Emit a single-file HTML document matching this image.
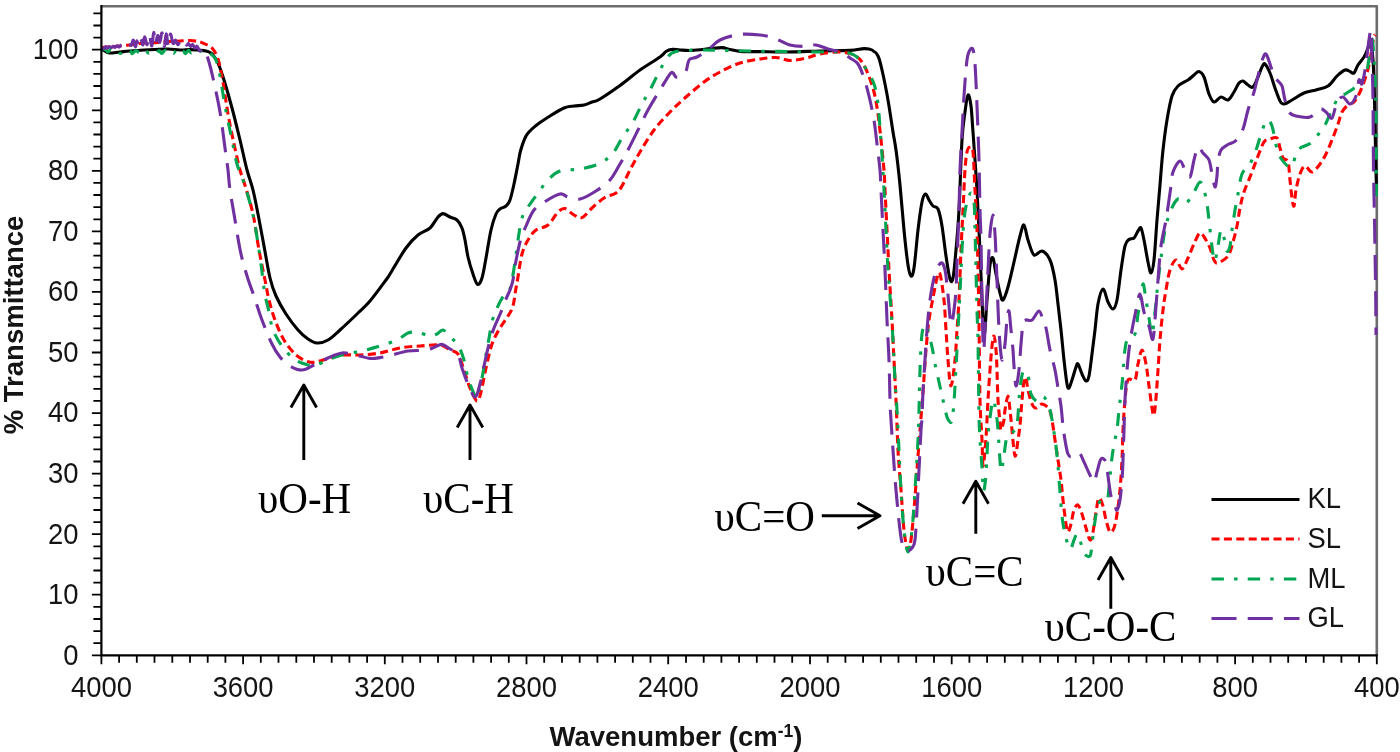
<!DOCTYPE html>
<html lang="en"><head><meta charset="utf-8"><title>FTIR spectra</title>
<style>html,body{margin:0;padding:0;background:#fff}body{width:1400px;height:752px;overflow:hidden}svg{display:block;will-change:transform}.t{font-family:"Liberation Sans",sans-serif;fill:#141414}.s{font-family:"Liberation Serif",serif;fill:#000}.c{fill:none;stroke-linejoin:round}</style></head><body>
<svg width="1400" height="752" viewBox="0 0 1400 752">
<rect width="1400" height="752" fill="#fff"/>
<path d="M101.4 6.25 H1376.8 V655.3" fill="none" stroke="#6c6c6c" stroke-width="2.6" stroke-linejoin="round"/>
<path class="c" d="M101.5 48.0C101.9 48.4 102.8 49.7 104.0 50.5C105.2 51.3 106.3 52.8 109.0 53.0C111.7 53.2 116.5 52.3 120.0 52.0C123.5 51.7 124.3 51.4 130.0 51.0C135.7 50.6 147.7 49.8 154.0 49.5C160.3 49.2 163.7 48.9 168.0 49.0C172.3 49.1 176.3 49.9 180.0 50.0C183.7 50.1 186.7 49.6 190.0 49.6C193.3 49.6 197.3 50.1 200.0 50.3C202.7 50.5 204.3 50.6 206.0 51.0C207.7 51.4 208.8 51.8 210.0 52.5C211.2 53.2 211.7 53.2 213.0 55.0C214.3 56.8 216.2 58.8 218.0 63.0C219.8 67.2 221.7 72.5 224.0 80.0C226.3 87.5 229.3 98.0 232.0 108.0C234.7 118.0 237.5 129.7 240.0 140.0C242.5 150.3 244.8 161.7 247.0 170.0C249.2 178.3 251.2 182.7 253.0 190.0C254.8 197.3 256.2 204.7 258.0 214.0C259.8 223.3 262.0 235.3 264.0 246.0C266.0 256.7 268.0 269.7 270.0 278.0C272.0 286.3 273.3 290.0 276.0 296.0C278.7 302.0 282.3 308.3 286.0 314.0C289.7 319.7 294.3 325.8 298.0 330.0C301.7 334.2 304.8 336.8 308.0 339.0C311.2 341.2 313.7 342.8 317.0 343.0C320.3 343.2 324.2 342.2 328.0 340.0C331.8 337.8 335.3 334.2 340.0 330.0C344.7 325.8 351.0 319.8 356.0 315.0C361.0 310.2 365.0 306.8 370.0 301.0C375.0 295.2 382.7 284.5 386.0 280.0C389.3 275.5 386.7 279.3 390.0 274.0C393.3 268.7 401.3 254.5 406.0 248.0C410.7 241.5 414.0 238.3 418.0 235.0C422.0 231.7 426.7 231.0 430.0 228.0C433.3 225.0 435.8 219.4 438.0 217.0C440.2 214.6 441.0 213.6 443.0 213.6C445.0 213.6 447.7 215.9 450.0 217.0C452.3 218.1 455.0 218.2 457.0 220.0C459.0 221.8 460.7 224.7 462.0 228.0C463.3 231.3 464.0 235.2 465.0 240.0C466.0 244.8 466.7 251.3 468.0 257.0C469.3 262.7 471.4 269.4 473.0 274.0C474.6 278.6 476.1 283.7 477.6 284.4C479.1 285.1 480.6 282.4 482.0 278.0C483.4 273.6 484.5 266.0 486.0 258.0C487.5 250.0 489.3 237.3 491.0 230.0C492.7 222.7 494.5 217.5 496.0 214.0C497.5 210.5 498.3 210.3 500.0 209.0C501.7 207.7 504.3 207.5 506.0 206.0C507.7 204.5 508.7 203.7 510.0 200.0C511.3 196.3 512.7 190.0 514.0 184.0C515.3 178.0 516.9 169.5 518.0 164.0C519.1 158.5 519.2 155.7 520.5 151.0C521.8 146.3 524.1 139.7 526.0 136.0C527.9 132.3 530.0 131.0 532.0 129.0C534.0 127.0 535.0 126.2 538.0 124.0C541.0 121.8 545.7 118.7 550.0 116.0C554.3 113.3 560.0 109.7 564.0 108.0C568.0 106.3 570.7 106.5 574.0 106.0C577.3 105.5 581.0 105.7 584.0 105.0C587.0 104.3 589.3 103.0 592.0 102.0C594.7 101.0 595.3 101.8 600.0 99.0C604.7 96.2 613.3 90.3 620.0 85.5C626.7 80.7 633.3 74.8 640.0 70.0C646.7 65.2 655.7 60.1 660.0 57.0C664.3 53.9 664.0 52.8 666.0 51.5C668.0 50.2 669.7 49.6 672.0 49.4C674.3 49.1 676.7 49.8 680.0 50.0C683.3 50.2 687.0 50.6 692.0 50.4C697.0 50.2 705.0 49.1 710.0 48.6C715.0 48.1 718.7 47.5 722.0 47.6C725.3 47.8 727.0 48.9 730.0 49.5C733.0 50.1 735.0 51.0 740.0 51.4C745.0 51.8 752.3 51.5 760.0 51.6C767.7 51.7 776.0 52.1 786.0 52.0C796.0 51.9 809.3 51.3 820.0 51.0C830.7 50.7 842.7 50.8 850.0 50.4C857.3 50.0 860.3 48.7 864.0 48.6C867.7 48.5 869.7 48.8 872.0 50.0C874.3 51.2 876.3 52.7 878.0 56.0C879.7 59.3 880.3 62.7 882.0 70.0C883.7 77.3 886.2 89.7 888.0 100.0C889.8 110.3 891.7 123.7 893.0 132.0C894.3 140.3 894.8 141.2 896.0 150.0C897.2 158.8 898.7 171.7 900.0 185.0C901.3 198.3 902.7 216.7 904.0 230.0C905.3 243.3 906.8 257.3 908.0 265.0C909.2 272.7 910.0 275.5 911.0 276.0C912.0 276.5 912.8 275.7 914.0 268.0C915.2 260.3 916.7 241.0 918.0 230.0C919.3 219.0 920.8 208.0 922.0 202.0C923.2 196.0 924.3 194.3 925.5 194.0C926.7 193.7 927.8 198.0 929.0 200.0C930.2 202.0 931.5 204.5 933.0 206.0C934.5 207.5 936.5 205.7 938.0 209.0C939.5 212.3 940.7 218.2 942.0 226.0C943.3 233.8 944.7 247.2 946.0 256.0C947.3 264.8 948.8 275.3 950.0 279.0C951.2 282.7 952.0 282.8 953.0 278.0C954.0 273.2 955.0 261.3 956.0 250.0C957.0 238.7 958.0 228.3 959.0 210.0C960.0 191.7 961.0 156.3 962.0 140.0C963.0 123.7 964.0 119.5 965.0 112.0C966.0 104.5 967.0 96.0 968.0 95.0C969.0 94.0 970.2 99.8 971.0 106.0C971.8 112.2 972.3 123.0 973.0 132.0C973.7 141.0 974.3 150.3 975.0 160.0C975.7 169.7 976.3 178.3 977.0 190.0C977.7 201.7 978.3 215.8 979.0 230.0C979.7 244.2 980.2 257.7 981.0 275.0C981.8 292.3 983.0 329.8 984.0 334.0C985.0 338.2 986.0 311.5 987.0 300.0C988.0 288.5 989.0 272.0 990.0 265.0C991.0 258.0 992.0 256.5 993.0 258.0C994.0 259.5 994.8 268.2 996.0 274.0C997.2 279.8 998.8 288.7 1000.0 293.0C1001.2 297.3 1001.7 301.0 1003.0 300.0C1004.3 299.0 1006.2 293.3 1008.0 287.0C1009.8 280.7 1012.0 270.5 1014.0 262.0C1016.0 253.5 1018.3 242.2 1020.0 236.0C1021.7 229.8 1022.7 224.3 1024.0 225.0C1025.3 225.7 1026.3 235.0 1028.0 240.0C1029.7 245.0 1031.7 253.2 1034.0 255.0C1036.3 256.8 1039.3 250.2 1042.0 251.0C1044.7 251.8 1047.8 255.2 1050.0 260.0C1052.2 264.8 1053.7 272.7 1055.0 280.0C1056.3 287.3 1057.0 295.7 1058.0 304.0C1059.0 312.3 1060.0 320.7 1061.0 330.0C1062.0 339.3 1063.0 351.0 1064.0 360.0C1065.0 369.0 1066.2 379.3 1067.0 384.0C1067.8 388.7 1068.2 388.7 1069.0 388.0C1069.8 387.3 1070.8 383.5 1072.0 380.0C1073.2 376.5 1075.0 369.7 1076.0 367.0C1077.0 364.3 1077.0 362.8 1078.0 364.0C1079.0 365.2 1080.7 371.2 1082.0 374.0C1083.3 376.8 1084.8 380.7 1086.0 381.0C1087.2 381.3 1088.0 380.5 1089.0 376.0C1090.0 371.5 1091.0 361.7 1092.0 354.0C1093.0 346.3 1094.0 338.3 1095.0 330.0C1096.0 321.7 1096.7 310.8 1098.0 304.0C1099.3 297.2 1101.3 289.3 1103.0 289.0C1104.7 288.7 1106.3 298.7 1108.0 302.0C1109.7 305.3 1111.5 309.3 1113.0 309.0C1114.5 308.7 1115.7 306.5 1117.0 300.0C1118.3 293.5 1119.7 279.0 1121.0 270.0C1122.3 261.0 1123.7 251.1 1125.0 246.0C1126.3 240.9 1127.5 240.8 1129.0 239.5C1130.5 238.2 1132.5 239.4 1134.0 238.0C1135.5 236.6 1136.8 232.7 1138.0 231.0C1139.2 229.3 1140.0 226.5 1141.0 228.0C1142.0 229.5 1142.8 234.3 1144.0 240.0C1145.2 245.7 1146.8 256.5 1148.0 262.0C1149.2 267.5 1150.0 273.3 1151.0 273.0C1152.0 272.7 1153.0 268.8 1154.0 260.0C1155.0 251.2 1156.0 232.5 1157.0 220.0C1158.0 207.5 1159.0 196.7 1160.0 185.0C1161.0 173.3 1161.8 160.8 1163.0 150.0C1164.2 139.2 1165.5 129.0 1167.0 120.0C1168.5 111.0 1170.2 101.7 1172.0 96.0C1173.8 90.3 1175.3 88.7 1178.0 86.0C1180.7 83.3 1185.3 81.8 1188.0 80.0C1190.7 78.2 1192.2 76.4 1194.0 75.0C1195.8 73.6 1197.3 71.2 1199.0 71.5C1200.7 71.8 1202.3 73.2 1204.0 77.0C1205.7 80.8 1207.3 89.8 1209.0 94.0C1210.7 98.2 1212.0 101.5 1214.0 102.0C1216.0 102.5 1218.7 97.3 1221.0 97.0C1223.3 96.7 1225.8 100.8 1228.0 100.0C1230.2 99.2 1232.2 94.8 1234.0 92.0C1235.8 89.2 1237.5 84.8 1239.0 83.0C1240.5 81.2 1241.5 80.7 1243.0 81.0C1244.5 81.3 1246.3 84.0 1248.0 85.0C1249.7 86.0 1251.3 88.3 1253.0 87.0C1254.7 85.7 1256.5 80.3 1258.0 77.0C1259.5 73.7 1260.8 69.2 1262.0 67.0C1263.2 64.8 1263.7 63.0 1265.0 64.0C1266.3 65.0 1268.3 69.0 1270.0 73.0C1271.7 77.0 1273.3 83.3 1275.0 88.0C1276.7 92.7 1278.5 98.3 1280.0 101.0C1281.5 103.7 1282.0 104.2 1284.0 104.0C1286.0 103.8 1288.7 101.8 1292.0 100.0C1295.3 98.2 1300.0 94.7 1304.0 93.0C1308.0 91.3 1312.0 91.2 1316.0 90.0C1320.0 88.8 1324.5 88.3 1328.0 86.0C1331.5 83.7 1334.2 78.7 1337.0 76.0C1339.8 73.3 1342.8 70.8 1345.0 70.0C1347.2 69.2 1348.5 71.0 1350.0 71.5C1351.5 72.0 1352.7 74.1 1354.0 73.0C1355.3 71.9 1356.3 67.7 1358.0 65.0C1359.7 62.3 1362.3 59.8 1364.0 57.0C1365.7 54.2 1367.0 50.8 1368.0 48.0C1369.0 45.2 1369.2 38.0 1370.0 40.0C1370.8 42.0 1372.2 50.0 1373.0 60.0C1373.8 70.0 1374.1 85.0 1374.5 100.0C1374.9 115.0 1375.2 134.8 1375.5 150.0C1375.8 165.2 1376.3 184.2 1376.5 191.0" stroke="#000000" stroke-width="3.1" stroke-linecap="butt"/>
<path class="c" d="M101.5 47.5C102.9 47.4 106.9 47.2 110.0 47.0C113.1 46.8 116.0 46.4 120.0 46.0C124.0 45.6 129.8 45.0 134.0 44.5C138.2 44.0 141.0 43.3 145.0 43.0C149.0 42.7 153.8 42.8 158.0 42.5C162.2 42.2 166.3 41.8 170.0 41.5C173.7 41.2 176.7 41.2 180.0 41.0C183.3 40.8 187.0 40.4 190.0 40.5C193.0 40.6 195.7 41.0 198.0 41.5C200.3 42.0 201.7 42.5 204.0 43.6C206.3 44.7 209.7 45.4 212.0 48.0C214.3 50.6 216.2 53.3 218.0 59.0C219.8 64.7 221.3 72.8 223.0 82.0C224.7 91.2 226.2 103.7 228.0 114.0C229.8 124.3 232.0 134.7 234.0 144.0C236.0 153.3 238.3 163.7 240.0 170.0C241.7 176.3 241.8 174.7 244.0 182.0C246.2 189.3 250.5 202.7 253.0 214.0C255.5 225.3 257.0 239.0 259.0 250.0C261.0 261.0 263.3 271.7 265.0 280.0C266.7 288.3 267.3 293.3 269.0 300.0C270.7 306.7 272.5 313.3 275.0 320.0C277.5 326.7 280.5 334.2 284.0 340.0C287.5 345.8 292.0 351.4 296.0 355.0C300.0 358.6 304.7 360.4 308.0 361.6C311.3 362.8 312.3 362.6 316.0 362.0C319.7 361.4 325.3 359.2 330.0 358.0C334.7 356.8 339.0 355.5 344.0 355.0C349.0 354.5 354.0 355.3 360.0 355.0C366.0 354.7 373.3 354.2 380.0 353.0C386.7 351.8 393.3 349.2 400.0 348.0C406.7 346.8 413.3 346.5 420.0 346.0C426.7 345.5 435.0 344.3 440.0 345.0C445.0 345.7 447.0 348.5 450.0 350.0C453.0 351.5 455.7 350.7 458.0 354.0C460.3 357.3 462.0 364.3 464.0 370.0C466.0 375.7 467.8 382.8 470.0 388.0C472.2 393.2 475.2 400.3 477.0 401.0C478.8 401.7 479.5 397.5 481.0 392.0C482.5 386.5 484.2 376.0 486.0 368.0C487.8 360.0 489.7 350.7 492.0 344.0C494.3 337.3 497.3 332.7 500.0 328.0C502.7 323.3 505.8 319.7 508.0 316.0C510.2 312.3 511.7 310.7 513.0 306.0C514.3 301.3 515.2 292.3 516.0 288.0C516.8 283.7 516.5 285.7 517.5 280.0C518.5 274.3 520.2 260.7 522.0 254.0C523.8 247.3 525.7 244.0 528.0 240.0C530.3 236.0 532.7 232.5 536.0 230.0C539.3 227.5 544.3 228.0 548.0 225.0C551.7 222.0 555.2 214.7 558.0 212.0C560.8 209.3 562.3 208.1 565.0 208.6C567.7 209.1 571.2 213.5 574.0 215.0C576.8 216.5 579.0 218.8 582.0 217.6C585.0 216.4 588.3 211.3 592.0 208.0C595.7 204.7 600.0 200.5 604.0 198.0C608.0 195.5 613.0 195.0 616.0 193.0C619.0 191.0 619.7 189.8 622.0 186.0C624.3 182.2 627.0 175.7 630.0 170.0C633.0 164.3 636.0 158.7 640.0 152.0C644.0 145.3 649.0 136.7 654.0 130.0C659.0 123.3 664.7 117.5 670.0 112.0C675.3 106.5 680.3 102.0 686.0 97.0C691.7 92.0 698.3 86.2 704.0 82.0C709.7 77.8 714.0 75.2 720.0 72.0C726.0 68.8 733.3 65.2 740.0 63.0C746.7 60.8 754.0 59.9 760.0 59.0C766.0 58.1 771.0 57.2 776.0 57.5C781.0 57.8 785.0 60.4 790.0 60.5C795.0 60.6 801.0 59.1 806.0 58.0C811.0 56.9 814.3 55.0 820.0 54.0C825.7 53.0 834.3 51.8 840.0 52.0C845.7 52.2 850.3 53.3 854.0 55.0C857.7 56.7 859.7 58.8 862.0 62.0C864.3 65.2 866.0 69.0 868.0 74.0C870.0 79.0 872.3 85.3 874.0 92.0C875.7 98.7 876.8 106.0 878.0 114.0C879.2 122.0 880.0 130.7 881.0 140.0C882.0 149.3 883.3 161.7 884.0 170.0C884.7 178.3 884.5 180.0 885.0 190.0C885.5 200.0 886.3 216.7 887.0 230.0C887.7 243.3 888.2 255.0 889.0 270.0C889.8 285.0 891.2 305.0 892.0 320.0C892.8 335.0 893.3 346.7 894.0 360.0C894.7 373.3 895.3 385.0 896.0 400.0C896.7 415.0 897.2 435.0 898.0 450.0C898.8 465.0 900.0 476.7 901.0 490.0C902.0 503.3 903.0 520.3 904.0 530.0C905.0 539.7 906.2 544.8 907.0 548.0C907.8 551.2 908.3 550.3 909.0 549.0C909.7 547.7 910.2 546.5 911.0 540.0C911.8 533.5 913.0 521.7 914.0 510.0C915.0 498.3 916.0 483.3 917.0 470.0C918.0 456.7 919.0 443.0 920.0 430.0C921.0 417.0 922.0 405.3 923.0 392.0C924.0 378.7 925.0 362.0 926.0 350.0C927.0 338.0 927.8 328.7 929.0 320.0C930.2 311.3 931.7 305.0 933.0 298.0C934.3 291.0 935.8 282.0 937.0 278.0C938.2 274.0 938.8 270.3 940.0 274.0C941.2 277.7 943.0 290.7 944.0 300.0C945.0 309.3 945.3 320.0 946.0 330.0C946.7 340.0 947.2 350.7 948.0 360.0C948.8 369.3 949.8 386.0 951.0 386.0C952.2 386.0 954.0 369.3 955.0 360.0C956.0 350.7 956.3 340.0 957.0 330.0C957.7 320.0 958.3 313.3 959.0 300.0C959.7 286.7 960.3 265.0 961.0 250.0C961.7 235.0 962.3 223.3 963.0 210.0C963.7 196.7 964.3 179.7 965.0 170.0C965.7 160.3 966.2 155.8 967.0 152.0C967.8 148.2 969.0 147.0 970.0 147.0C971.0 147.0 972.2 144.8 973.0 152.0C973.8 159.2 974.3 177.0 975.0 190.0C975.7 203.0 976.5 216.7 977.0 230.0C977.5 243.3 977.7 255.0 978.0 270.0C978.3 285.0 978.7 298.3 979.0 320.0C979.3 341.7 979.5 380.0 980.0 400.0C980.5 420.0 981.5 429.0 982.0 440.0C982.5 451.0 982.5 464.3 983.0 466.0C983.5 467.7 984.4 456.0 985.0 450.0C985.6 444.0 986.0 438.3 986.5 430.0C987.0 421.7 987.4 410.0 988.0 400.0C988.6 390.0 989.3 379.0 990.0 370.0C990.7 361.0 991.3 351.7 992.0 346.0C992.7 340.3 993.3 335.3 994.0 336.0C994.7 336.7 995.5 344.3 996.0 350.0C996.5 355.7 996.7 361.7 997.0 370.0C997.3 378.3 997.5 391.3 998.0 400.0C998.5 408.7 999.5 417.0 1000.0 422.0C1000.5 427.0 1000.3 430.3 1001.0 430.0C1001.7 429.7 1003.3 423.3 1004.0 420.0C1004.7 416.7 1004.3 414.0 1005.0 410.0C1005.7 406.0 1007.2 396.0 1008.0 396.0C1008.8 396.0 1009.3 404.3 1010.0 410.0C1010.7 415.7 1011.2 422.3 1012.0 430.0C1012.8 437.7 1014.0 454.3 1015.0 456.0C1016.0 457.7 1017.2 445.2 1018.0 440.0C1018.8 434.8 1019.3 431.7 1020.0 425.0C1020.7 418.3 1021.3 407.3 1022.0 400.0C1022.7 392.7 1023.3 384.7 1024.0 381.0C1024.7 377.3 1025.3 376.5 1026.0 378.0C1026.7 379.5 1027.0 385.7 1028.0 390.0C1029.0 394.3 1030.7 401.0 1032.0 404.0C1033.3 407.0 1034.3 408.0 1036.0 408.0C1037.7 408.0 1039.8 403.8 1042.0 404.0C1044.2 404.2 1047.3 406.3 1049.0 409.0C1050.7 411.7 1051.0 414.8 1052.0 420.0C1053.0 425.2 1054.0 433.3 1055.0 440.0C1056.0 446.7 1057.0 453.3 1058.0 460.0C1059.0 466.7 1060.2 473.3 1061.0 480.0C1061.8 486.7 1062.2 492.7 1063.0 500.0C1063.8 507.3 1065.2 518.7 1066.0 524.0C1066.8 529.3 1067.2 532.0 1068.0 532.0C1068.8 532.0 1070.0 527.7 1071.0 524.0C1072.0 520.3 1072.8 513.2 1074.0 510.0C1075.2 506.8 1076.7 504.3 1078.0 505.0C1079.3 505.7 1080.7 510.2 1082.0 514.0C1083.3 517.8 1084.7 523.7 1086.0 528.0C1087.3 532.3 1088.8 539.3 1090.0 540.0C1091.2 540.7 1092.0 536.7 1093.0 532.0C1094.0 527.3 1095.0 517.7 1096.0 512.0C1097.0 506.3 1097.8 499.0 1099.0 498.0C1100.2 497.0 1101.8 502.3 1103.0 506.0C1104.2 509.7 1104.8 515.7 1106.0 520.0C1107.2 524.3 1108.7 530.7 1110.0 532.0C1111.3 533.3 1112.8 531.0 1114.0 528.0C1115.2 525.0 1116.0 520.3 1117.0 514.0C1118.0 507.7 1119.2 499.0 1120.0 490.0C1120.8 481.0 1121.5 470.0 1122.0 460.0C1122.5 450.0 1122.5 440.0 1123.0 430.0C1123.5 420.0 1124.2 408.3 1125.0 400.0C1125.8 391.7 1126.3 383.3 1128.0 380.0C1129.7 376.7 1133.3 382.7 1135.0 380.0C1136.7 377.3 1136.8 369.0 1138.0 364.0C1139.2 359.0 1140.7 350.0 1142.0 350.0C1143.3 350.0 1144.8 358.0 1146.0 364.0C1147.2 370.0 1148.0 378.7 1149.0 386.0C1150.0 393.3 1151.2 403.2 1152.0 408.0C1152.8 412.8 1153.3 416.7 1154.0 415.0C1154.7 413.3 1155.3 405.5 1156.0 398.0C1156.7 390.5 1157.3 379.7 1158.0 370.0C1158.7 360.3 1159.2 350.0 1160.0 340.0C1160.8 330.0 1162.0 318.3 1163.0 310.0C1164.0 301.7 1164.8 296.7 1166.0 290.0C1167.2 283.3 1168.3 275.0 1170.0 270.0C1171.7 265.0 1174.0 260.2 1176.0 260.0C1178.0 259.8 1180.0 269.3 1182.0 269.0C1184.0 268.7 1186.0 262.2 1188.0 258.0C1190.0 253.8 1192.0 248.2 1194.0 244.0C1196.0 239.8 1198.0 233.7 1200.0 233.0C1202.0 232.3 1204.3 237.5 1206.0 240.0C1207.7 242.5 1208.7 244.7 1210.0 248.0C1211.3 251.3 1212.7 257.5 1214.0 260.0C1215.3 262.5 1215.7 263.7 1218.0 263.0C1220.3 262.3 1225.5 259.5 1228.0 256.0C1230.5 252.5 1231.5 247.0 1233.0 242.0C1234.5 237.0 1235.8 231.7 1237.0 226.0C1238.2 220.3 1238.8 213.7 1240.0 208.0C1241.2 202.3 1242.0 198.0 1244.0 192.0C1246.0 186.0 1249.7 178.0 1252.0 172.0C1254.3 166.0 1256.0 161.0 1258.0 156.0C1260.0 151.0 1262.0 144.8 1264.0 142.0C1266.0 139.2 1267.8 139.7 1270.0 139.0C1272.2 138.3 1275.3 136.5 1277.0 138.0C1278.7 139.5 1279.0 144.7 1280.0 148.0C1281.0 151.3 1281.7 155.7 1283.0 158.0C1284.3 160.3 1286.8 158.3 1288.0 162.0C1289.2 165.7 1289.3 174.0 1290.0 180.0C1290.7 186.0 1291.3 193.7 1292.0 198.0C1292.7 202.3 1293.3 207.3 1294.0 206.0C1294.7 204.7 1295.0 195.3 1296.0 190.0C1297.0 184.7 1298.5 178.0 1300.0 174.0C1301.5 170.0 1303.0 166.3 1305.0 166.0C1307.0 165.7 1309.5 172.3 1312.0 172.0C1314.5 171.7 1317.7 167.0 1320.0 164.0C1322.3 161.0 1324.0 158.0 1326.0 154.0C1328.0 150.0 1330.0 145.0 1332.0 140.0C1334.0 135.0 1336.3 128.7 1338.0 124.0C1339.7 119.3 1340.3 115.2 1342.0 112.0C1343.7 108.8 1346.0 106.7 1348.0 105.0C1350.0 103.3 1352.0 104.2 1354.0 102.0C1356.0 99.8 1358.0 96.3 1360.0 92.0C1362.0 87.7 1364.3 81.3 1366.0 76.0C1367.7 70.7 1368.8 66.3 1370.0 60.0C1371.2 53.7 1372.6 42.2 1373.5 38.0C1374.4 33.8 1375.2 35.5 1375.5 35.0" stroke="#ff0000" stroke-width="3.1" stroke-dasharray="8 4.4" stroke-linecap="butt"/>
<path class="c" d="M101.5 48.0C102.2 48.3 104.9 49.3 106.0 50.0C107.1 50.7 107.2 52.1 108.0 52.0C108.8 51.9 110.1 49.2 111.1 49.3C112.1 49.4 113.0 52.5 114.0 52.7C115.0 52.9 116.2 50.6 117.2 50.7C118.2 50.8 119.1 53.3 120.2 53.4C121.3 53.5 122.8 51.2 123.8 51.1C124.8 51.0 125.4 53.0 126.4 52.9C127.4 52.8 129.1 50.4 130.0 50.5C130.9 50.6 131.1 53.8 132.1 53.8C133.1 53.8 134.8 50.6 136.0 50.5C137.2 50.4 138.3 52.9 139.2 52.9C140.1 52.9 140.6 50.7 141.3 50.7C142.0 50.7 142.7 52.9 143.5 53.0C144.3 53.1 145.1 51.2 146.0 51.2C146.9 51.2 147.9 53.3 149.0 53.2C150.1 53.1 151.5 50.6 152.6 50.6C153.7 50.6 154.7 53.2 155.8 53.2C156.9 53.2 158.1 50.5 159.1 50.5C160.1 50.5 160.6 53.6 161.7 53.5C162.8 53.4 164.4 50.1 165.6 50.0C166.8 49.9 168.0 52.5 169.0 52.6C170.0 52.7 170.7 50.4 171.5 50.5C172.3 50.6 172.8 53.3 173.7 53.2C174.5 53.1 175.6 50.0 176.6 50.0C177.6 50.0 178.3 53.3 179.4 53.5C180.5 53.7 182.0 51.0 183.0 51.0C184.0 51.0 184.6 53.7 185.5 53.6C186.4 53.5 187.5 50.3 188.4 50.2C189.3 50.1 190.2 52.9 191.2 52.9C192.2 52.9 193.5 50.5 194.5 50.5C195.5 50.5 196.1 53.1 197.0 53.1C197.9 53.1 198.7 50.5 199.7 50.5C200.7 50.5 202.2 53.1 203.2 53.3C204.2 53.5 205.0 51.8 205.8 51.6C206.6 51.4 207.0 51.4 208.0 52.0C209.0 52.6 210.7 53.7 212.0 55.0C213.3 56.3 214.7 56.5 216.0 60.0C217.3 63.5 218.5 68.3 220.0 76.0C221.5 83.7 223.0 95.3 225.0 106.0C227.0 116.7 230.0 130.3 232.0 140.0C234.0 149.7 235.0 156.8 237.0 164.0C239.0 171.2 241.3 174.5 244.0 183.0C246.7 191.5 250.5 203.8 253.0 215.0C255.5 226.2 257.3 239.2 259.0 250.0C260.7 260.8 262.0 272.5 263.0 280.0C264.0 287.5 264.0 289.7 265.0 295.0C266.0 300.3 267.7 306.2 269.0 312.0C270.3 317.8 270.8 324.3 273.0 330.0C275.2 335.7 278.5 341.2 282.0 346.0C285.5 350.8 289.7 355.8 294.0 359.0C298.3 362.2 304.3 364.0 308.0 365.0C311.7 366.0 312.3 366.0 316.0 365.0C319.7 364.0 325.3 360.8 330.0 359.0C334.7 357.2 338.7 355.7 344.0 354.4C349.3 353.1 356.0 352.4 362.0 351.0C368.0 349.6 374.2 347.8 380.0 346.0C385.8 344.2 392.3 342.2 397.0 340.0C401.7 337.8 404.5 334.3 408.0 333.0C411.5 331.7 414.3 331.9 418.0 332.4C421.7 332.9 426.8 335.7 430.0 336.0C433.2 336.3 434.8 335.0 437.0 334.0C439.2 333.0 441.0 329.7 443.0 330.0C445.0 330.3 446.5 333.5 449.0 336.0C451.5 338.5 455.5 341.0 458.0 345.0C460.5 349.0 462.3 354.5 464.0 360.0C465.7 365.5 466.2 372.0 468.0 378.0C469.8 384.0 473.5 392.9 475.0 396.0C476.5 399.1 475.8 399.5 477.0 396.5C478.2 393.5 480.7 384.1 482.0 378.0C483.3 371.9 484.0 365.7 485.0 360.0C486.0 354.3 486.8 350.3 488.0 344.0C489.2 337.7 490.5 328.0 492.0 322.0C493.5 316.0 495.0 312.5 497.0 308.0C499.0 303.5 501.8 298.2 504.0 295.0C506.2 291.8 508.2 294.5 510.0 289.0C511.8 283.5 513.7 270.2 515.0 262.0C516.3 253.8 516.8 247.3 518.0 240.0C519.2 232.7 520.3 223.5 522.0 218.0C523.7 212.5 525.3 211.2 528.0 207.0C530.7 202.8 534.7 197.5 538.0 193.0C541.3 188.5 544.3 183.7 548.0 180.0C551.7 176.3 554.7 172.8 560.0 171.0C565.3 169.2 573.3 170.2 580.0 169.0C586.7 167.8 594.5 166.2 600.0 163.5C605.5 160.8 609.3 157.2 613.0 153.0C616.7 148.8 618.7 143.2 622.0 138.0C625.3 132.8 629.7 127.7 633.0 122.0C636.3 116.3 639.2 109.3 642.0 104.0C644.8 98.7 647.3 95.0 650.0 90.0C652.7 85.0 655.2 79.3 658.0 74.0C660.8 68.7 664.0 61.8 667.0 58.0C670.0 54.2 670.5 52.8 676.0 51.5C681.5 50.2 692.7 50.2 700.0 50.0C707.3 49.8 711.7 50.2 720.0 50.4C728.3 50.6 740.0 50.8 750.0 51.0C760.0 51.2 773.3 51.3 780.0 51.4C786.7 51.5 783.3 51.5 790.0 51.6C796.7 51.7 811.7 51.9 820.0 52.0C828.3 52.1 834.3 51.5 840.0 52.0C845.7 52.5 850.0 52.7 854.0 55.0C858.0 57.3 860.7 61.2 864.0 66.0C867.3 70.8 871.7 77.7 874.0 84.0C876.3 90.3 877.0 96.7 878.0 104.0C879.0 111.3 879.3 119.5 880.0 128.0C880.7 136.5 881.3 144.7 882.0 155.0C882.7 165.3 883.3 177.5 884.0 190.0C884.7 202.5 885.3 216.7 886.0 230.0C886.7 243.3 887.3 259.0 888.0 270.0C888.7 281.0 889.2 284.3 890.0 296.0C890.8 307.7 892.2 326.0 893.0 340.0C893.8 354.0 894.3 368.3 895.0 380.0C895.7 391.7 896.3 398.3 897.0 410.0C897.7 421.7 898.3 436.7 899.0 450.0C899.7 463.3 900.2 476.7 901.0 490.0C901.8 503.3 902.8 519.7 904.0 530.0C905.2 540.3 906.7 552.0 908.0 552.0C909.3 552.0 910.8 540.3 912.0 530.0C913.2 519.7 914.0 505.0 915.0 490.0C916.0 475.0 917.3 453.3 918.0 440.0C918.7 426.7 918.7 421.7 919.0 410.0C919.3 398.3 919.5 382.7 920.0 370.0C920.5 357.3 921.0 341.5 922.0 334.0C923.0 326.5 924.3 322.8 926.0 325.0C927.7 327.2 930.5 340.5 932.0 347.0C933.5 353.5 933.8 358.2 935.0 364.0C936.2 369.8 937.7 376.0 939.0 382.0C940.3 388.0 941.7 394.2 943.0 400.0C944.3 405.8 945.8 413.3 947.0 417.0C948.2 420.7 949.2 421.5 950.0 422.0C950.8 422.5 951.3 423.3 952.0 420.0C952.7 416.7 953.3 410.7 954.0 402.0C954.7 393.3 955.3 380.0 956.0 368.0C956.7 356.0 957.3 342.7 958.0 330.0C958.7 317.3 959.3 305.3 960.0 292.0C960.7 278.7 961.3 262.0 962.0 250.0C962.7 238.0 963.2 228.0 964.0 220.0C964.8 212.0 965.8 206.5 967.0 202.0C968.2 197.5 969.8 193.0 971.0 193.0C972.2 193.0 973.3 195.8 974.0 202.0C974.7 208.2 974.7 218.7 975.0 230.0C975.3 241.3 975.7 256.7 976.0 270.0C976.3 283.3 976.7 298.3 977.0 310.0C977.3 321.7 977.8 328.3 978.0 340.0C978.2 351.7 978.3 367.3 978.5 380.0C978.7 392.7 978.8 406.0 979.0 416.0C979.2 426.0 979.5 431.3 980.0 440.0C980.5 448.7 981.4 459.5 982.0 468.0C982.6 476.5 982.8 490.0 983.5 491.0C984.2 492.0 985.2 483.2 986.0 474.0C986.8 464.8 987.3 445.3 988.0 436.0C988.7 426.7 989.2 424.0 990.0 418.0C990.8 412.0 992.0 401.0 993.0 400.0C994.0 399.0 995.2 407.0 996.0 412.0C996.8 417.0 997.2 420.3 998.0 430.0C998.8 439.7 1000.0 465.8 1001.0 470.0C1002.0 474.2 1003.0 460.5 1004.0 455.0C1005.0 449.5 1005.5 440.8 1007.0 437.0C1008.5 433.2 1011.3 434.0 1013.0 432.0C1014.7 430.0 1016.0 430.3 1017.0 425.0C1018.0 419.7 1018.5 406.2 1019.0 400.0C1019.5 393.8 1019.3 392.7 1020.0 388.0C1020.7 383.3 1021.7 374.2 1023.0 372.0C1024.3 369.8 1026.7 371.3 1028.0 375.0C1029.3 378.7 1029.3 389.5 1031.0 394.0C1032.7 398.5 1035.8 401.5 1038.0 402.0C1040.2 402.5 1042.0 395.7 1044.0 397.0C1046.0 398.3 1048.5 405.2 1050.0 410.0C1051.5 414.8 1052.0 420.0 1053.0 426.0C1054.0 432.0 1055.2 439.3 1056.0 446.0C1056.8 452.7 1057.3 458.3 1058.0 466.0C1058.7 473.7 1059.3 483.7 1060.0 492.0C1060.7 500.3 1061.2 509.0 1062.0 516.0C1062.8 523.0 1063.7 528.5 1065.0 534.0C1066.3 539.5 1068.5 548.0 1070.0 549.0C1071.5 550.0 1072.8 542.5 1074.0 540.0C1075.2 537.5 1076.0 534.0 1077.0 534.0C1078.0 534.0 1078.8 536.8 1080.0 540.0C1081.2 543.2 1082.3 550.3 1084.0 553.0C1085.7 555.7 1088.7 557.5 1090.0 556.0C1091.3 554.5 1091.3 548.7 1092.0 544.0C1092.7 539.3 1093.2 533.7 1094.0 528.0C1094.8 522.3 1095.8 514.7 1097.0 510.0C1098.2 505.3 1099.3 501.7 1101.0 500.0C1102.7 498.3 1105.7 502.0 1107.0 500.0C1108.3 498.0 1108.3 493.7 1109.0 488.0C1109.7 482.3 1110.2 473.3 1111.0 466.0C1111.8 458.7 1113.0 450.0 1114.0 444.0C1115.0 438.0 1116.2 435.7 1117.0 430.0C1117.8 424.3 1118.3 416.2 1119.0 410.0C1119.7 403.8 1120.3 399.0 1121.0 393.0C1121.7 387.0 1122.5 379.8 1123.0 374.0C1123.5 368.2 1123.3 363.7 1124.0 358.0C1124.7 352.3 1125.2 344.0 1127.0 340.0C1128.8 336.0 1133.2 338.3 1135.0 334.0C1136.8 329.7 1137.2 319.0 1138.0 314.0C1138.8 309.0 1139.2 309.0 1140.0 304.0C1140.8 299.0 1142.0 284.7 1143.0 284.0C1144.0 283.3 1145.0 294.3 1146.0 300.0C1147.0 305.7 1148.0 312.3 1149.0 318.0C1150.0 323.7 1151.0 335.0 1152.0 334.0C1153.0 333.0 1154.0 320.7 1155.0 312.0C1156.0 303.3 1157.0 291.0 1158.0 282.0C1159.0 273.0 1159.8 266.7 1161.0 258.0C1162.2 249.3 1163.3 238.0 1165.0 230.0C1166.7 222.0 1168.8 215.2 1171.0 210.0C1173.2 204.8 1175.5 200.2 1178.0 199.0C1180.5 197.8 1183.3 204.2 1186.0 203.0C1188.7 201.8 1191.7 195.5 1194.0 192.0C1196.3 188.5 1198.3 182.3 1200.0 182.0C1201.7 181.7 1202.8 186.3 1204.0 190.0C1205.2 193.7 1206.2 199.0 1207.0 204.0C1207.8 209.0 1208.3 214.3 1209.0 220.0C1209.7 225.7 1210.3 232.3 1211.0 238.0C1211.7 243.7 1212.3 250.2 1213.0 254.0C1213.7 257.8 1214.2 262.3 1215.0 261.0C1215.8 259.7 1217.0 251.2 1218.0 246.0C1219.0 240.8 1220.0 231.3 1221.0 230.0C1222.0 228.7 1223.0 234.5 1224.0 238.0C1225.0 241.5 1226.0 249.7 1227.0 251.0C1228.0 252.3 1229.2 249.5 1230.0 246.0C1230.8 242.5 1231.2 236.0 1232.0 230.0C1232.8 224.0 1234.0 216.0 1235.0 210.0C1236.0 204.0 1236.8 200.0 1238.0 194.0C1239.2 188.0 1240.0 179.0 1242.0 174.0C1244.0 169.0 1247.7 168.0 1250.0 164.0C1252.3 160.0 1254.7 153.3 1256.0 150.0C1257.3 146.7 1257.0 147.2 1258.0 144.0C1259.0 140.8 1260.5 135.0 1262.0 131.0C1263.5 127.0 1265.3 120.8 1267.0 120.0C1268.7 119.2 1270.5 121.8 1272.0 126.0C1273.5 130.2 1274.7 139.8 1276.0 145.0C1277.3 150.2 1277.5 153.3 1280.0 157.0C1282.5 160.7 1288.0 168.2 1291.0 167.0C1294.0 165.8 1294.7 154.0 1298.0 150.0C1301.3 146.0 1307.3 146.0 1311.0 143.0C1314.7 140.0 1317.7 135.0 1320.0 132.0C1322.3 129.0 1323.3 128.0 1325.0 125.0C1326.7 122.0 1328.0 118.2 1330.0 114.0C1332.0 109.8 1335.0 103.0 1337.0 100.0C1339.0 97.0 1339.3 97.8 1342.0 96.0C1344.7 94.2 1350.2 91.0 1353.0 89.0C1355.8 87.0 1356.8 86.5 1359.0 84.0C1361.2 81.5 1364.2 79.3 1366.0 74.0C1367.8 68.7 1369.0 58.3 1370.0 52.0C1371.0 45.7 1371.3 34.7 1372.0 36.0C1372.7 37.3 1373.5 52.7 1374.0 60.0C1374.5 67.3 1374.7 69.3 1375.0 80.0C1375.3 90.7 1375.8 103.2 1376.0 124.0C1376.2 144.8 1376.4 191.5 1376.5 205.0" stroke="#00a651" stroke-width="3.1" stroke-dasharray="12.4 10.2 3.4 10.2" stroke-linecap="butt"/>
<path class="c" d="M101.5 48.0C101.9 48.1 103.3 48.7 104.0 48.5C104.7 48.3 105.2 46.6 105.7 46.6C106.2 46.6 106.6 48.3 107.2 48.3C107.8 48.3 108.5 46.7 109.2 46.6C109.9 46.5 110.6 47.6 111.3 47.5C112.0 47.4 112.7 46.2 113.3 46.2C113.9 46.2 114.2 47.5 114.9 47.4C115.6 47.3 116.7 45.8 117.4 45.7C118.1 45.7 118.4 47.2 119.1 47.1C119.8 47.0 121.0 44.9 121.8 44.9C122.6 44.9 123.2 47.0 123.8 46.9C124.4 46.8 124.8 44.5 125.3 44.3C125.8 44.1 126.5 45.9 127.1 45.9C127.7 45.9 128.0 44.5 128.7 44.4C129.4 44.3 130.4 46.0 131.2 45.3C132.0 44.6 132.7 39.8 133.4 40.1C134.1 40.4 134.8 46.9 135.4 47.0C136.0 47.1 136.4 40.8 136.9 40.7C137.4 40.6 138.1 46.7 138.7 46.4C139.3 46.1 140.0 39.2 140.7 38.9C141.4 38.6 142.2 45.2 142.9 44.8C143.6 44.4 144.0 36.7 144.7 36.7C145.4 36.7 146.3 45.0 147.1 44.7C147.9 44.4 148.5 34.6 149.3 34.8C150.1 35.0 151.1 46.4 151.8 46.0C152.5 45.6 153.1 32.7 153.7 32.4C154.3 32.1 154.6 43.8 155.3 44.3C156.0 44.8 156.9 35.8 157.7 35.5C158.4 35.2 159.1 42.7 159.8 42.3C160.5 41.9 161.3 32.3 162.1 33.0C162.8 33.7 163.6 46.2 164.3 46.4C165.0 46.5 165.5 34.0 166.2 33.9C166.9 33.8 167.7 45.8 168.4 45.8C169.1 45.8 169.6 34.4 170.4 34.0C171.2 33.6 172.3 42.6 173.1 43.6C173.9 44.6 174.6 39.8 175.4 40.0C176.2 40.2 177.0 44.7 177.8 44.8C178.7 44.9 179.8 40.6 180.5 40.6C181.2 40.6 181.6 44.1 182.3 44.5C183.0 44.9 183.9 42.6 184.6 42.7C185.3 42.8 186.1 45.2 186.7 45.3C187.3 45.4 187.6 43.3 188.3 43.5C189.0 43.7 190.0 46.2 190.7 46.4C191.4 46.6 191.8 44.2 192.5 44.5C193.2 44.8 194.3 47.8 195.1 48.1C195.9 48.4 196.3 45.7 197.1 46.2C197.9 46.7 198.8 50.4 199.7 50.9C200.6 51.4 201.6 48.7 202.3 49.0C203.1 49.3 203.6 52.2 204.2 52.9C204.8 53.6 205.2 51.5 206.0 53.0C206.8 54.5 207.8 57.8 209.0 62.0C210.2 66.2 211.2 69.7 213.0 78.0C214.8 86.3 218.0 100.3 220.0 112.0C222.0 123.7 223.7 138.3 225.0 148.0C226.3 157.7 227.2 163.0 228.0 170.0C228.8 177.0 228.8 181.7 230.0 190.0C231.2 198.3 233.2 209.3 235.0 220.0C236.8 230.7 238.8 244.2 241.0 254.0C243.2 263.8 245.8 272.0 248.0 279.0C250.2 286.0 251.7 289.2 254.0 296.0C256.3 302.8 259.0 312.0 262.0 320.0C265.0 328.0 269.0 337.8 272.0 344.0C275.0 350.2 277.0 353.3 280.0 357.0C283.0 360.7 286.3 363.8 290.0 366.0C293.7 368.2 298.0 370.2 302.0 370.0C306.0 369.8 309.7 367.0 314.0 365.0C318.3 363.0 323.3 360.0 328.0 358.0C332.7 356.0 337.3 353.5 342.0 353.0C346.7 352.5 351.3 354.1 356.0 355.0C360.7 355.9 366.0 358.0 370.0 358.4C374.0 358.8 376.3 358.2 380.0 357.6C383.7 357.0 387.3 356.1 392.0 355.0C396.7 353.9 402.3 351.8 408.0 351.0C413.7 350.2 421.5 350.7 426.0 350.0C430.5 349.3 432.3 347.9 435.0 347.0C437.7 346.1 439.5 344.1 442.0 344.4C444.5 344.7 447.3 347.4 450.0 349.0C452.7 350.6 456.0 350.8 458.0 354.0C460.0 357.2 460.3 363.0 462.0 368.0C463.7 373.0 465.8 379.2 468.0 384.0C470.2 388.8 473.0 397.0 475.0 397.0C477.0 397.0 478.5 389.2 480.0 384.0C481.5 378.8 482.5 372.7 484.0 366.0C485.5 359.3 487.3 350.3 489.0 344.0C490.7 337.7 492.0 333.3 494.0 328.0C496.0 322.7 499.0 316.8 501.0 312.0C503.0 307.2 504.5 302.7 506.0 299.0C507.5 295.3 508.8 293.2 510.0 290.0C511.2 286.8 512.2 284.0 513.0 280.0C513.8 276.0 513.8 272.3 515.0 266.0C516.2 259.7 518.2 248.7 520.0 242.0C521.8 235.3 523.7 231.3 526.0 226.0C528.3 220.7 530.7 214.2 534.0 210.0C537.3 205.8 541.7 203.7 546.0 201.0C550.3 198.3 556.3 194.7 560.0 194.0C563.7 193.3 564.7 196.2 568.0 197.0C571.3 197.8 575.3 200.0 580.0 199.0C584.7 198.0 591.0 194.2 596.0 191.0C601.0 187.8 606.0 184.5 610.0 180.0C614.0 175.5 617.0 169.0 620.0 164.0C623.0 159.0 625.0 155.7 628.0 150.0C631.0 144.3 634.7 136.7 638.0 130.0C641.3 123.3 644.3 116.7 648.0 110.0C651.7 103.3 656.3 96.0 660.0 90.0C663.7 84.0 667.8 76.8 670.0 74.0C672.2 71.2 672.0 72.5 673.0 73.0C674.0 73.5 674.7 76.5 676.0 77.0C677.3 77.5 679.3 77.0 681.0 76.0C682.7 75.0 684.8 73.2 686.0 71.0C687.2 68.8 687.3 65.0 688.0 63.0C688.7 61.0 688.5 60.0 690.0 59.0C691.5 58.0 694.0 58.5 697.0 57.0C700.0 55.5 704.2 52.8 708.0 50.0C711.8 47.2 714.7 42.6 720.0 40.0C725.3 37.4 733.3 35.2 740.0 34.4C746.7 33.6 754.3 34.4 760.0 35.0C765.7 35.6 769.0 36.3 774.0 38.0C779.0 39.7 784.7 43.6 790.0 45.0C795.3 46.4 801.7 46.4 806.0 46.4C810.3 46.4 812.3 44.6 816.0 45.0C819.7 45.4 824.0 47.8 828.0 49.0C832.0 50.2 836.3 50.5 840.0 52.0C843.7 53.5 847.0 56.0 850.0 58.0C853.0 60.0 855.7 60.7 858.0 64.0C860.3 67.3 862.2 72.7 864.0 78.0C865.8 83.3 867.3 89.0 869.0 96.0C870.7 103.0 872.7 112.0 874.0 120.0C875.3 128.0 876.0 135.7 877.0 144.0C878.0 152.3 879.3 162.3 880.0 170.0C880.7 177.7 880.5 180.0 881.0 190.0C881.5 200.0 882.3 216.7 883.0 230.0C883.7 243.3 884.3 255.0 885.0 270.0C885.7 285.0 886.3 305.0 887.0 320.0C887.7 335.0 888.5 346.7 889.0 360.0C889.5 373.3 889.7 390.0 890.0 400.0C890.3 410.0 890.5 411.7 891.0 420.0C891.5 428.3 892.2 438.3 893.0 450.0C893.8 461.7 894.8 476.7 896.0 490.0C897.2 503.3 898.8 520.7 900.0 530.0C901.2 539.3 901.7 542.5 903.0 546.0C904.3 549.5 906.5 550.7 908.0 551.0C909.5 551.3 910.8 549.8 912.0 548.0C913.2 546.2 914.2 546.3 915.0 540.0C915.8 533.7 916.3 521.7 917.0 510.0C917.7 498.3 918.3 483.3 919.0 470.0C919.7 456.7 920.5 438.7 921.0 430.0C921.5 421.3 921.7 424.3 922.0 418.0C922.3 411.7 922.5 401.7 923.0 392.0C923.5 382.3 924.3 370.3 925.0 360.0C925.7 349.7 926.2 340.0 927.0 330.0C927.8 320.0 928.7 309.3 930.0 300.0C931.3 290.7 933.2 280.2 935.0 274.0C936.8 267.8 939.3 263.7 941.0 263.0C942.7 262.3 943.8 264.7 945.0 270.0C946.2 275.3 947.0 286.0 948.0 295.0C949.0 304.0 950.0 321.5 951.0 324.0C952.0 326.5 953.2 315.7 954.0 310.0C954.8 304.3 955.5 298.0 956.0 290.0C956.5 282.0 956.5 275.3 957.0 262.0C957.5 248.7 958.5 225.3 959.0 210.0C959.5 194.7 959.5 183.0 960.0 170.0C960.5 157.0 961.3 144.3 962.0 132.0C962.7 119.7 963.2 108.0 964.0 96.0C964.8 84.0 966.0 67.7 967.0 60.0C968.0 52.3 969.0 51.7 970.0 50.0C971.0 48.3 972.2 47.3 973.0 49.6C973.8 51.9 974.4 56.3 975.0 64.0C975.6 71.7 976.1 84.7 976.6 96.0C977.1 107.3 977.6 121.3 978.0 132.0C978.4 142.7 978.7 147.0 979.0 160.0C979.3 173.0 979.7 196.7 980.0 210.0C980.3 223.3 980.7 225.0 981.0 240.0C981.3 255.0 981.6 281.7 982.0 300.0C982.4 318.3 982.9 346.7 983.5 350.0C984.1 353.3 984.9 330.0 985.5 320.0C986.1 310.0 986.6 298.3 987.0 290.0C987.4 281.7 987.5 279.3 988.0 270.0C988.5 260.7 989.2 243.2 990.0 234.0C990.8 224.8 992.2 215.0 993.0 215.0C993.8 215.0 994.5 227.2 995.0 234.0C995.5 240.8 995.7 248.3 996.0 256.0C996.3 263.7 996.5 267.7 997.0 280.0C997.5 292.3 998.2 316.7 999.0 330.0C999.8 343.3 1001.0 357.7 1002.0 360.0C1003.0 362.3 1004.2 350.7 1005.0 344.0C1005.8 337.3 1006.3 325.5 1007.0 320.0C1007.7 314.5 1008.3 309.3 1009.0 311.0C1009.7 312.7 1010.3 323.5 1011.0 330.0C1011.7 336.5 1012.5 344.0 1013.0 350.0C1013.5 356.0 1013.5 360.0 1014.0 366.0C1014.5 372.0 1015.2 385.3 1016.0 386.0C1016.8 386.7 1018.2 377.0 1019.0 370.0C1019.8 363.0 1020.3 351.7 1021.0 344.0C1021.7 336.3 1022.2 328.0 1023.0 324.0C1023.8 320.0 1024.5 320.7 1026.0 320.0C1027.5 319.3 1029.8 321.5 1032.0 320.0C1034.2 318.5 1037.2 311.0 1039.0 311.0C1040.8 311.0 1041.8 317.2 1043.0 320.0C1044.2 322.8 1044.8 323.0 1046.0 328.0C1047.2 333.0 1048.5 343.0 1050.0 350.0C1051.5 357.0 1053.7 363.7 1055.0 370.0C1056.3 376.3 1057.0 382.0 1058.0 388.0C1059.0 394.0 1060.2 399.7 1061.0 406.0C1061.8 412.3 1062.3 420.3 1063.0 426.0C1063.7 431.7 1064.2 435.3 1065.0 440.0C1065.8 444.7 1066.8 451.2 1068.0 454.0C1069.2 456.8 1070.2 457.2 1072.0 457.0C1073.8 456.8 1077.0 452.2 1079.0 453.0C1081.0 453.8 1082.3 458.7 1084.0 462.0C1085.7 465.3 1087.3 469.7 1089.0 473.0C1090.7 476.3 1092.7 482.2 1094.0 482.0C1095.3 481.8 1095.8 475.8 1097.0 472.0C1098.2 468.2 1099.5 460.7 1101.0 459.0C1102.5 457.3 1104.8 459.2 1106.0 462.0C1107.2 464.8 1107.2 470.3 1108.0 476.0C1108.8 481.7 1109.8 491.0 1111.0 496.0C1112.2 501.0 1114.0 503.7 1115.0 506.0C1116.0 508.3 1116.2 511.0 1117.0 510.0C1117.8 509.0 1119.2 505.0 1120.0 500.0C1120.8 495.0 1121.5 486.7 1122.0 480.0C1122.5 473.3 1122.7 468.3 1123.0 460.0C1123.3 451.7 1123.7 440.0 1124.0 430.0C1124.3 420.0 1124.5 410.0 1125.0 400.0C1125.5 390.0 1126.3 378.3 1127.0 370.0C1127.7 361.7 1128.2 356.7 1129.0 350.0C1129.8 343.3 1130.8 336.7 1132.0 330.0C1133.2 323.3 1134.7 316.0 1136.0 310.0C1137.3 304.0 1138.7 293.7 1140.0 294.0C1141.3 294.3 1142.5 306.7 1144.0 312.0C1145.5 317.3 1147.5 321.5 1149.0 326.0C1150.5 330.5 1151.8 342.3 1153.0 339.0C1154.2 335.7 1155.2 315.8 1156.0 306.0C1156.8 296.2 1157.2 290.0 1158.0 280.0C1158.8 270.0 1159.7 256.0 1161.0 246.0C1162.3 236.0 1164.7 227.7 1166.0 220.0C1167.3 212.3 1168.2 205.7 1169.0 200.0C1169.8 194.3 1170.3 190.7 1171.0 186.0C1171.7 181.3 1171.5 176.2 1173.0 172.0C1174.5 167.8 1178.0 161.3 1180.0 161.0C1182.0 160.7 1183.3 167.3 1185.0 170.0C1186.7 172.7 1188.5 178.7 1190.0 177.0C1191.5 175.3 1192.7 165.0 1194.0 160.0C1195.3 155.0 1196.5 148.2 1198.0 147.0C1199.5 145.8 1201.2 150.8 1203.0 153.0C1204.8 155.2 1207.5 156.5 1209.0 160.0C1210.5 163.5 1211.0 169.5 1212.0 174.0C1213.0 178.5 1214.2 186.7 1215.0 187.0C1215.8 187.3 1216.5 180.2 1217.0 176.0C1217.5 171.8 1217.3 166.3 1218.0 162.0C1218.7 157.7 1219.3 152.9 1221.0 150.0C1222.7 147.1 1225.5 146.1 1228.0 144.5C1230.5 142.9 1233.5 143.1 1236.0 140.5C1238.5 137.9 1241.0 134.1 1243.0 129.0C1245.0 123.9 1246.2 116.2 1248.0 110.0C1249.8 103.8 1252.2 98.3 1254.0 92.0C1255.8 85.7 1257.5 77.7 1259.0 72.0C1260.5 66.3 1261.8 61.0 1263.0 58.0C1264.2 55.0 1264.8 53.0 1266.0 54.0C1267.2 55.0 1268.7 60.3 1270.0 64.0C1271.3 67.7 1272.7 73.2 1274.0 76.0C1275.3 78.8 1276.7 79.3 1278.0 81.0C1279.3 82.7 1280.8 82.8 1282.0 86.0C1283.2 89.2 1283.8 95.7 1285.0 100.0C1286.2 104.3 1287.2 109.3 1289.0 112.0C1290.8 114.7 1292.5 115.2 1296.0 116.0C1299.5 116.8 1306.0 118.2 1310.0 117.0C1314.0 115.8 1317.3 109.8 1320.0 109.0C1322.7 108.2 1324.0 110.5 1326.0 112.0C1328.0 113.5 1330.2 119.7 1332.0 118.0C1333.8 116.3 1335.2 105.5 1337.0 102.0C1338.8 98.5 1340.8 96.7 1343.0 97.0C1345.2 97.3 1347.8 104.2 1350.0 104.0C1352.2 103.8 1354.5 100.0 1356.0 96.0C1357.5 92.0 1358.0 82.0 1359.0 80.0C1360.0 78.0 1361.0 85.7 1362.0 84.0C1363.0 82.3 1363.8 77.3 1365.0 70.0C1366.2 62.7 1368.0 46.5 1369.0 40.0C1370.0 33.5 1370.5 27.7 1371.0 31.0C1371.5 34.3 1371.7 48.5 1372.0 60.0C1372.3 71.5 1372.8 81.7 1373.0 100.0C1373.2 118.3 1373.2 150.0 1373.5 170.0C1373.8 190.0 1374.2 201.7 1374.5 220.0C1374.8 238.3 1375.2 260.8 1375.5 280.0C1375.8 299.2 1375.9 325.8 1376.0 335.0" stroke="#7030a0" stroke-width="3.1" stroke-dasharray="25 11.2" stroke-linecap="butt"/>
<path d="M101.4 655.3h-9.5M101.4 643.2h-8.0M101.4 631.1h-8.0M101.4 619.0h-8.0M101.4 606.9h-8.0M101.4 594.7h-9.5M101.4 582.6h-8.0M101.4 570.5h-8.0M101.4 558.4h-8.0M101.4 546.3h-8.0M101.4 534.2h-9.5M101.4 522.1h-8.0M101.4 510.0h-8.0M101.4 497.8h-8.0M101.4 485.7h-8.0M101.4 473.6h-9.5M101.4 461.5h-8.0M101.4 449.4h-8.0M101.4 437.3h-8.0M101.4 425.2h-8.0M101.4 413.1h-9.5M101.4 400.9h-8.0M101.4 388.8h-8.0M101.4 376.7h-8.0M101.4 364.6h-8.0M101.4 352.5h-9.5M101.4 340.4h-8.0M101.4 328.3h-8.0M101.4 316.2h-8.0M101.4 304.1h-8.0M101.4 291.9h-9.5M101.4 279.8h-8.0M101.4 267.7h-8.0M101.4 255.6h-8.0M101.4 243.5h-8.0M101.4 231.4h-9.5M101.4 219.3h-8.0M101.4 207.2h-8.0M101.4 195.0h-8.0M101.4 182.9h-8.0M101.4 170.8h-9.5M101.4 158.7h-8.0M101.4 146.6h-8.0M101.4 134.5h-8.0M101.4 122.4h-8.0M101.4 110.3h-9.5M101.4 98.1h-8.0M101.4 86.0h-8.0M101.4 73.9h-8.0M101.4 61.8h-8.0M101.4 49.7h-9.5M101.4 37.6h-8.0M101.4 25.5h-8.0M101.4 13.4h-8.0M1376.8 655.3v9.0M1359.1 655.3v7.5M1341.4 655.3v7.5M1323.7 655.3v7.5M1305.9 655.3v7.5M1288.2 655.3v7.5M1270.5 655.3v7.5M1252.8 655.3v7.5M1235.1 655.3v9.0M1217.4 655.3v7.5M1199.7 655.3v7.5M1181.9 655.3v7.5M1164.2 655.3v7.5M1146.5 655.3v7.5M1128.8 655.3v7.5M1111.1 655.3v7.5M1093.4 655.3v9.0M1075.7 655.3v7.5M1057.9 655.3v7.5M1040.2 655.3v7.5M1022.5 655.3v7.5M1004.8 655.3v7.5M987.1 655.3v7.5M969.4 655.3v7.5M951.7 655.3v9.0M934.0 655.3v7.5M916.2 655.3v7.5M898.5 655.3v7.5M880.8 655.3v7.5M863.1 655.3v7.5M845.4 655.3v7.5M827.7 655.3v7.5M810.0 655.3v9.0M792.2 655.3v7.5M774.5 655.3v7.5M756.8 655.3v7.5M739.1 655.3v7.5M721.4 655.3v7.5M703.7 655.3v7.5M686.0 655.3v7.5M668.2 655.3v9.0M650.5 655.3v7.5M632.8 655.3v7.5M615.1 655.3v7.5M597.4 655.3v7.5M579.7 655.3v7.5M562.0 655.3v7.5M544.2 655.3v7.5M526.5 655.3v9.0M508.8 655.3v7.5M491.1 655.3v7.5M473.4 655.3v7.5M455.7 655.3v7.5M438.0 655.3v7.5M420.2 655.3v7.5M402.5 655.3v7.5M384.8 655.3v9.0M367.1 655.3v7.5M349.4 655.3v7.5M331.7 655.3v7.5M314.0 655.3v7.5M296.3 655.3v7.5M278.5 655.3v7.5M260.8 655.3v7.5M243.1 655.3v9.0M225.4 655.3v7.5M207.7 655.3v7.5M190.0 655.3v7.5M172.3 655.3v7.5M154.5 655.3v7.5M136.8 655.3v7.5M119.1 655.3v7.5M101.4 655.3v9.0" fill="none" stroke="#000" stroke-width="1.8"/>
<path d="M101.4 5.0V655.3H1377.8" fill="none" stroke="#000" stroke-width="2.2" stroke-linejoin="miter"/>
<text class="t" transform="translate(78.5 664.6) scale(1 1.045)" font-size="27.4" text-anchor="end">0</text>
<text class="t" transform="translate(78.5 604.0) scale(1 1.045)" font-size="27.4" text-anchor="end">10</text>
<text class="t" transform="translate(78.5 543.5) scale(1 1.045)" font-size="27.4" text-anchor="end">20</text>
<text class="t" transform="translate(78.5 482.9) scale(1 1.045)" font-size="27.4" text-anchor="end">30</text>
<text class="t" transform="translate(78.5 422.4) scale(1 1.045)" font-size="27.4" text-anchor="end">40</text>
<text class="t" transform="translate(78.5 361.8) scale(1 1.045)" font-size="27.4" text-anchor="end">50</text>
<text class="t" transform="translate(78.5 301.2) scale(1 1.045)" font-size="27.4" text-anchor="end">60</text>
<text class="t" transform="translate(78.5 240.7) scale(1 1.045)" font-size="27.4" text-anchor="end">70</text>
<text class="t" transform="translate(78.5 180.1) scale(1 1.045)" font-size="27.4" text-anchor="end">80</text>
<text class="t" transform="translate(78.5 119.6) scale(1 1.045)" font-size="27.4" text-anchor="end">90</text>
<text class="t" transform="translate(78.5 59.0) scale(1 1.045)" font-size="27.4" text-anchor="end">100</text>
<text class="t" transform="translate(1376.8 696.8) scale(1 1.045)" font-size="27.4" text-anchor="middle">400</text>
<text class="t" transform="translate(1235.1 696.8) scale(1 1.045)" font-size="27.4" text-anchor="middle">800</text>
<text class="t" transform="translate(1093.4 696.8) scale(1 1.045)" font-size="27.4" text-anchor="middle">1200</text>
<text class="t" transform="translate(951.7 696.8) scale(1 1.045)" font-size="27.4" text-anchor="middle">1600</text>
<text class="t" transform="translate(810.0 696.8) scale(1 1.045)" font-size="27.4" text-anchor="middle">2000</text>
<text class="t" transform="translate(668.2 696.8) scale(1 1.045)" font-size="27.4" text-anchor="middle">2400</text>
<text class="t" transform="translate(526.5 696.8) scale(1 1.045)" font-size="27.4" text-anchor="middle">2800</text>
<text class="t" transform="translate(384.8 696.8) scale(1 1.045)" font-size="27.4" text-anchor="middle">3200</text>
<text class="t" transform="translate(243.1 696.8) scale(1 1.045)" font-size="27.4" text-anchor="middle">3600</text>
<text class="t" transform="translate(101.4 696.8) scale(1 1.045)" font-size="27.4" text-anchor="middle">4000</text>
<text class="t" fill="#000" font-weight="bold" font-size="27.5" text-anchor="middle" transform="translate(22.8 325) rotate(-90)">% Transmittance</text>
<text class="t" fill="#000" font-weight="bold" font-size="27.5" text-anchor="middle" x="676" y="746.4">Wavenumber (cm<tspan font-size="17.5" dy="-9">-1</tspan><tspan dy="9">)</tspan></text>
<path d="M1211.5 499.4H1299.5" fill="none" stroke="#000000" stroke-width="3.0" stroke-linecap="butt"/>
<text class="t" transform="translate(1307.5 508.0) scale(1 1.045)" font-size="27.4">KL</text>
<path d="M1211.5 539.1H1299.5" fill="none" stroke="#ff0000" stroke-width="3.0" stroke-dasharray="8 4.4" stroke-linecap="butt"/>
<text class="t" transform="translate(1307.5 547.8) scale(1 1.045)" font-size="27.4">SL</text>
<path d="M1211.5 578.9H1299.5" fill="none" stroke="#00a651" stroke-width="3.0" stroke-dasharray="12.4 10.2 3.4 10.2" stroke-linecap="butt"/>
<text class="t" transform="translate(1307.5 587.5) scale(1 1.045)" font-size="27.4">ML</text>
<path d="M1211.5 618.6H1299.5" fill="none" stroke="#7030a0" stroke-width="3.0" stroke-dasharray="25 11.2" stroke-linecap="butt"/>
<text class="t" transform="translate(1307.5 627.2) scale(1 1.045)" font-size="27.4">GL</text>
<path d="M303.8 460.0L303.8 385.0M316.6 407.5L303.8 385.0L290.9 407.5" fill="none" stroke="#000" stroke-width="2.9" stroke-linejoin="round" stroke-linecap="butt"/>
<path d="M470.0 460.0L470.0 405.0M482.8 427.5L470.0 405.0L457.2 427.5" fill="none" stroke="#000" stroke-width="2.9" stroke-linejoin="round" stroke-linecap="butt"/>
<path d="M821.8 515.8L880.0 515.8M857.5 528.5L880.0 515.8L857.5 502.9" fill="none" stroke="#000" stroke-width="2.9" stroke-linejoin="round" stroke-linecap="butt"/>
<path d="M975.8 533.8L975.8 481.2M988.5 503.7L975.8 481.2L963.0 503.7" fill="none" stroke="#000" stroke-width="2.9" stroke-linejoin="round" stroke-linecap="butt"/>
<path d="M1110.8 608.8L1110.8 557.5M1123.5 580.0L1110.8 557.5L1098.0 580.0" fill="none" stroke="#000" stroke-width="2.9" stroke-linejoin="round" stroke-linecap="butt"/>
<text class="s" transform="translate(258.0 513.0) scale(1 1.08)" font-size="41">υO-H</text>
<text class="s" transform="translate(423.0 513.0) scale(1 1.08)" font-size="41">υC-H</text>
<text class="s" transform="translate(714.5 530.5) scale(1 1.08)" font-size="41">υC=O</text>
<text class="s" transform="translate(925.5 586.2) scale(1 1.08)" font-size="41">υC=C</text>
<text class="s" transform="translate(1044.5 640.5) scale(1 1.08)" font-size="41">υC-O-C</text>
</svg></body></html>
